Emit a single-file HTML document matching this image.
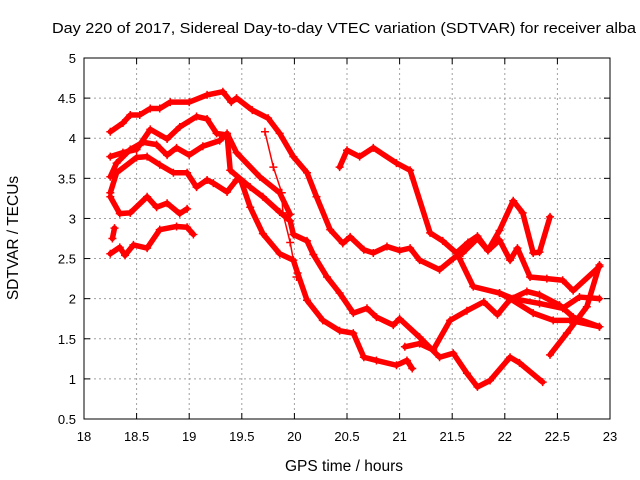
<!DOCTYPE html>
<html><head><meta charset="utf-8"><style>
body{margin:0;background:#fff}
svg{display:block;font-family:"Liberation Sans",sans-serif}
</style></head><body>
<svg id="chart" width="640" height="480">
<text x="344" y="33" text-anchor="middle" font-size="15" textLength="584" lengthAdjust="spacingAndGlyphs">Day 220 of 2017, Sidereal Day-to-day VTEC variation (SDTVAR) for receiver alba</text>
<text x="344" y="471" text-anchor="middle" font-size="15.5">GPS time / hours</text>
<text transform="translate(18,238) rotate(-90)" text-anchor="middle" font-size="15.5">SDTVAR / TECUs</text>
<g id="grid"></g><g id="series"></g><g id="axes"></g>
</svg>
<script>
const xTicks=[18,18.5,19,19.5,20,20.5,21,21.5,22,22.5,23];
const yTicks=[0.5,1,1.5,2,2.5,3,3.5,4,4.5,5];
const trackAx=[18.25,18.37,18.44,18.53,18.63,18.72,18.82,19.0,19.17,19.32,19.4,19.45,19.6,19.75,19.86,19.99,20.12,20.21,20.34,20.46,20.53,20.66,20.75,20.88,21.0,21.1,21.19,21.38,21.51,21.6,21.74,21.84,21.95,22.05,22.12,22.24,22.4,22.55,22.65,22.9];
const trackAy=[4.08,4.19,4.29,4.29,4.37,4.37,4.45,4.45,4.54,4.58,4.45,4.5,4.35,4.25,4.06,3.77,3.57,3.27,2.86,2.69,2.77,2.61,2.57,2.65,2.6,2.63,2.48,2.36,2.5,2.57,2.75,2.6,2.73,2.48,2.63,2.27,2.25,2.23,2.1,2.4];
const trackBx=[18.25,18.37,18.5,18.63,18.79,18.91,19.07,19.17,19.26,19.36,19.39,19.58,19.7,19.86,19.96,19.99,20.12,20.18,20.31,20.43,20.56,20.69,20.78,20.94,21.0,21.19,21.38,21.51,21.64,21.74,21.86,22.05,22.14,22.36];
const trackBy=[3.77,3.82,3.86,4.11,3.99,4.14,4.27,4.24,4.06,4.04,3.6,3.39,3.27,3.08,2.97,2.8,2.72,2.55,2.27,2.07,1.82,1.88,1.77,1.67,1.75,1.52,1.27,1.32,1.07,0.9,0.98,1.27,1.2,0.96];
const trackCx=[18.25,18.31,18.5,18.6,18.72,18.85,18.98,19.07,19.17,19.23,19.36,19.45,19.49,19.58,19.7,19.86,19.99,20.03,20.12,20.27,20.43,20.56,20.66,20.78,20.97,21.07,21.12];
const trackCy=[3.32,3.57,3.76,3.77,3.67,3.57,3.57,3.39,3.48,3.44,3.33,3.48,3.48,3.14,2.81,2.56,2.48,2.32,1.98,1.73,1.6,1.57,1.27,1.23,1.17,1.23,1.13];
const trackDx=[20.43,20.5,20.62,20.75,20.97,21.1,21.29,21.41,21.54,21.65,21.74,21.84,21.95,22.08,22.17,22.27,22.33,22.43];
const trackDy=[3.64,3.85,3.77,3.88,3.69,3.6,2.82,2.72,2.57,2.7,2.78,2.6,2.85,3.22,3.07,2.57,2.58,3.02];
const trackGx=[18.25,18.31,18.44,18.56,18.69,18.79,18.88,19.0,19.13,19.29,19.36,19.45,19.67,19.86,19.96];
const trackGy=[3.52,3.69,3.86,3.95,3.92,3.79,3.88,3.79,3.9,3.97,4.06,3.82,3.52,3.32,3.05];
const trackHx=[21.05,21.19,21.32,21.48,21.64,21.8,21.93,22.05,22.21,22.33,22.52,22.65,22.9];
const trackHy=[1.4,1.44,1.36,1.73,1.85,1.96,1.8,1.99,2.09,2.05,1.92,1.77,1.65];
const trackIx=[18.25,18.34,18.44,18.6,18.69,18.79,18.91,18.98];
const trackIy=[3.27,3.06,3.07,3.27,3.14,3.19,3.06,3.12];
const trackJx=[18.25,18.34,18.39,18.47,18.6,18.72,18.88,18.98,19.04];
const trackJy=[2.56,2.64,2.54,2.67,2.63,2.86,2.9,2.89,2.8];
const trackKx=[18.27,18.29];
const trackKy=[2.75,2.88];
const trackEx=[19.72,19.8,19.88,19.89,19.96,20.02];
const trackEy=[4.08,3.64,3.32,3.07,2.7,2.27];
const trackLx=[21.57,21.7,21.95,22.08,22.33,22.55,22.71,22.9];
const trackLy=[2.5,2.15,2.07,2.0,1.94,1.88,2.02,2.0];
const trackNx=[21.95,22.05,22.27,22.46,22.62,22.9];
const trackNy=[2.07,2.0,1.82,1.73,1.73,1.65];
const trackMx=[22.43,22.59,22.78,22.9];
const trackMy=[1.3,1.57,1.9,2.42];

const NS='http://www.w3.org/2000/svg';
const L=84,R=610,T=58,B=419;
const X=h=>L+(h-18)/5*(R-L);
const Y=v=>B-(v-0.5)/4.5*(B-T);
function mk(tag,attrs,parent){const e=document.createElementNS(NS,tag);for(const k in attrs)e.setAttribute(k,attrs[k]);parent.appendChild(e);return e;}
const grid=document.getElementById('grid'),axes=document.getElementById('axes'),ser=document.getElementById('series');
xTicks.forEach(t=>{
 const x=X(t);
 if(t>18&&t<23){const g=mk('line',{x1:x,x2:x,y1:T,y2:B,stroke:'#a0a0a0','stroke-dasharray':'2,3'},grid);
 
 }
 mk('line',{x1:x,x2:x,y1:B,y2:B-6,stroke:'#000'},axes);
 mk('line',{x1:x,x2:x,y1:T,y2:T+6,stroke:'#000'},axes);
 const tx=mk('text',{x:x,y:B+22,'text-anchor':'middle','font-size':13},axes);tx.textContent=t;
 
 
});
yTicks.forEach(t=>{
 const y=Y(t);
 if(t>0.5&&t<5){const g=mk('line',{x1:L,x2:R,y1:y,y2:y,stroke:'#a0a0a0','stroke-dasharray':'2,3'},grid);
 
 }
 mk('line',{x1:L,x2:L+6,y1:y,y2:y,stroke:'#000'},axes);
 mk('line',{x1:R,x2:R-6,y1:y,y2:y,stroke:'#000'},axes);
 const tx=mk('text',{x:L-8,y:y+5,'text-anchor':'end','font-size':13},axes);tx.textContent=t;
 
 
});
const frame=mk('rect',{x:L,y:T,width:R-L,height:B-T,fill:'none',stroke:'#000'},axes);


const tracks=[[trackAx,trackAy],[trackBx,trackBy],[trackCx,trackCy],[trackDx,trackDy],[trackGx,trackGy],[trackHx,trackHy],[trackIx,trackIy],[trackJx,trackJy],[trackKx,trackKy],[trackEx,trackEy,1],[trackLx,trackLy],[trackNx,trackNy],[trackMx,trackMy]];
tracks.forEach((tr,i)=>{
 const [xs,ys,thin]=tr;
 const g=mk('g',{},ser);
 
 
 const pts=xs.map((h,j)=>X(h)+','+Y(ys[j])).join(' ');
 mk('polyline',{points:pts,fill:'none',stroke:'#f00','stroke-width':thin?1.5:5.5,'stroke-linejoin':'round','stroke-linecap':'round'},g);
 xs.forEach((h,j)=>{
  const x=X(h),y=Y(ys[j]);
  mk('path',{d:`M${x-4},${y}H${x+4}M${x},${y-4}V${y+4}`,stroke:'#f00','stroke-width':1.5},g);
 });
});
</script>
</body></html>
